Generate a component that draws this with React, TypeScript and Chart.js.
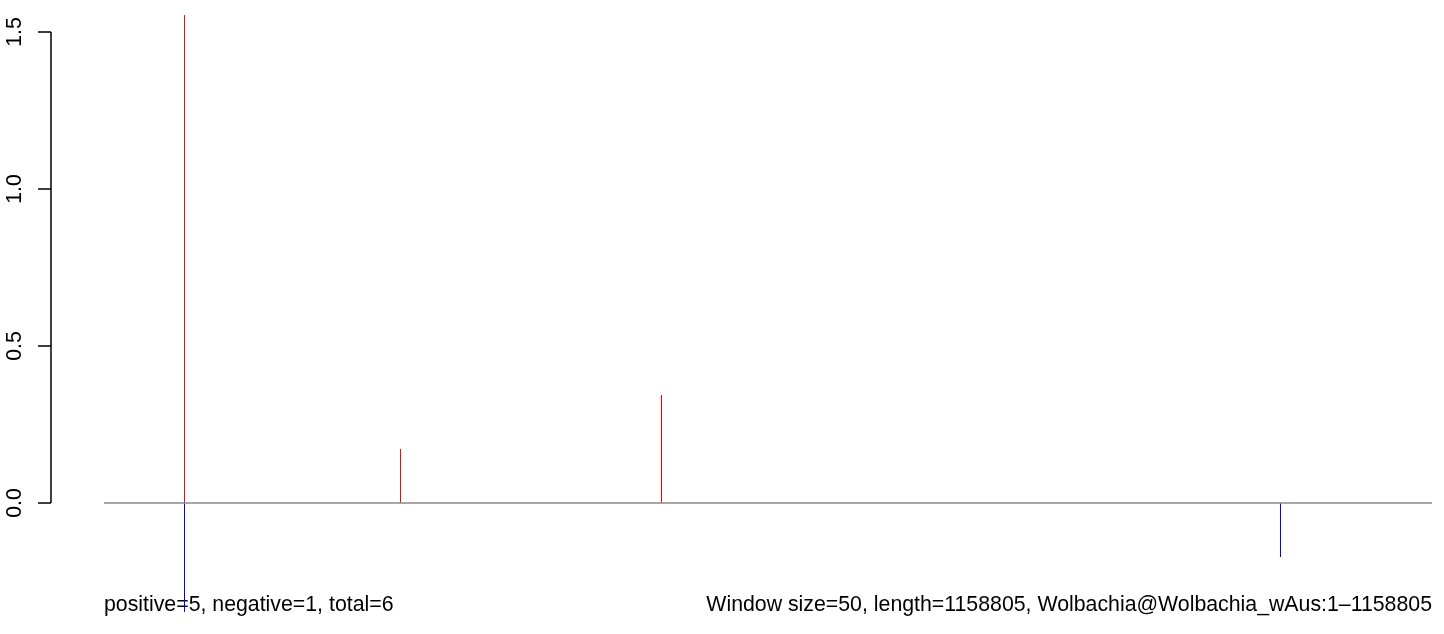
import React, { useEffect, useRef } from "react";
import { Chart, registerables } from "chart.js";

Chart.register(...registerables);

const seqLength = 1158805;
const positivePos = [70245, 258724, 486472];
const positiveVal = [1.554, 0.172, 0.344];
const negativePos = [70245, 1026604];
const negativeVal = [-0.347, -0.172];
const yTicks = [0, 0.5, 1.0, 1.5];
const yTickLabels = ["0.0", "0.5", "1.0", "1.5"];
const leftNote = "positive=5, negative=1, total=6";
const rightNote = "Window size=50, length=1158805, Wolbachia@Wolbachia_wAus:1\u20131158805";

const W = 1444;
const H = 634;

function spikes(pos: number[], val: number[]) {
  const pts: any[] = [];
  pos.forEach((p, i) => {
    pts.push({ x: p, y: 0 });
    pts.push({ x: p, y: val[i] });
    pts.push({ x: p, y: null });
  });
  return pts;
}

const FONT = '21.3px "Liberation Sans", Arial, sans-serif';

const overlay = {
  id: "rOverlay",
  beforeDatasetsDraw(chart: any) {
    const ctx = chart.ctx;
    const x = chart.scales.x;
    ctx.save();
    ctx.fillStyle = "#000";
    ctx.font = FONT;
    ctx.textBaseline = "alphabetic";
    ctx.textAlign = "left";
    ctx.fillText(leftNote, x.getPixelForValue(0), 611);
    ctx.textAlign = "right";
    ctx.fillText(rightNote, x.getPixelForValue(seqLength), 611);
    ctx.restore();
  },
  afterDatasetsDraw(chart: any) {
    const ctx = chart.ctx;
    const y = chart.scales.y;
    const axisX = 51;
    ctx.save();
    ctx.strokeStyle = "#000";
    ctx.lineWidth = 1.5;
    ctx.beginPath();
    ctx.moveTo(axisX, y.getPixelForValue(yTicks[0]));
    ctx.lineTo(axisX, y.getPixelForValue(yTicks[yTicks.length - 1]));
    yTicks.forEach((t) => {
      const py = y.getPixelForValue(t);
      ctx.moveTo(axisX, py);
      ctx.lineTo(axisX - 13, py);
    });
    ctx.stroke();
    ctx.fillStyle = "#000";
    ctx.font = FONT;
    ctx.textAlign = "center";
    ctx.textBaseline = "middle";
    yTicks.forEach((t, i) => {
      const py = y.getPixelForValue(t);
      ctx.save();
      ctx.translate(15, py);
      ctx.rotate(-Math.PI / 2);
      ctx.fillText(yTickLabels[i], 0, 0);
      ctx.restore();
    });
    ctx.restore();
  },
};

export default function App() {
  const ref = useRef<HTMLCanvasElement>(null);
  useEffect(() => {
    document.body.style.margin = "0";
    const k = 1328 / seqLength;
    const xMin = -104 / k;
    const xMax = xMin + W / k;
    const yMax = 503 / 314;
    const yMin = -(H - 503) / 314;
    const chart = new Chart(ref.current!, {
      type: "line",
      data: {
        datasets: [
          {
            data: [
              { x: 0, y: 0 },
              { x: seqLength, y: 0 },
            ],
            borderColor: "#8a8a8a",
            borderWidth: 1.6,
            pointRadius: 0,
          },
          {
            data: spikes(positivePos, positiveVal),
            borderColor: "#ff0000",
            borderWidth: 1,
            pointRadius: 0,
            spanGaps: false,
          },
          {
            data: spikes(negativePos, negativeVal),
            borderColor: "#0000ff",
            borderWidth: 1,
            pointRadius: 0,
            spanGaps: false,
          },
        ],
      },
      options: {
        animation: false,
        responsive: false,
        parsing: false,
        layout: { padding: 0 },
        plugins: { legend: { display: false }, tooltip: { enabled: false } },
        scales: {
          x: { type: "linear", display: false, min: xMin, max: xMax },
          y: { type: "linear", display: false, min: yMin, max: yMax },
        },
      },
      plugins: [overlay],
    } as any);
    return () => chart.destroy();
  }, []);
  return (
    <div style={{ position: "absolute", left: 0, top: 0, width: W, height: H, background: "#fff" }}>
      <canvas ref={ref} width={W} height={H} style={{ width: W, height: H, display: "block" }} />
    </div>
  );
}
